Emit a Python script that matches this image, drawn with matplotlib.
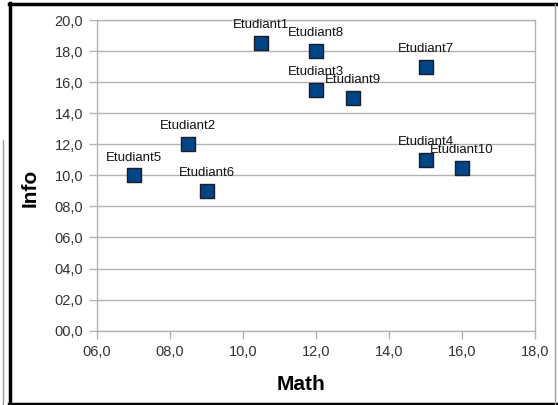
import matplotlib
matplotlib.use("Agg")
import matplotlib.pyplot as plt
from matplotlib.lines import Line2D

names = ["Etudiant1", "Etudiant2", "Etudiant3", "Etudiant4", "Etudiant5",
         "Etudiant6", "Etudiant7", "Etudiant8", "Etudiant9", "Etudiant10"]
math = [10.5, 8.5, 12.0, 15.0, 7.0, 9.0, 15.0, 12.0, 13.0, 16.0]
info = [18.5, 12.0, 15.5, 11.0, 10.0, 9.0, 17.0, 18.0, 15.0, 10.5]
xticks = [6, 8, 10, 12, 14, 16, 18]
yticks = [0, 2, 4, 6, 8, 10, 12, 14, 16, 18, 20]

plt.rcParams['font.family'] = ['Liberation Sans', 'DejaVu Sans']

W, H = 558, 405
fig = plt.figure(figsize=(W / 100, H / 100), dpi=100)
ax = fig.add_axes([97 / W, 1 - 330.7 / H, (535 - 97) / W, (330.7 - 20) / H])

grid_c = "#b3b3b3"
ax.scatter(math, info, marker="s", s=90, c="#004586", edgecolors="#1c1c2c",
           linewidths=1.0, zorder=3)
for n, x, y in zip(names, math, info):
    ax.annotate(n, (x, y), xytext=(0, 8.5), textcoords="offset points",
                ha="center", va="bottom", fontsize=9.5, color="#111111",
                zorder=4)

ax.set_xlim(6, 18)
ax.set_ylim(0, 20)
ax.set_xticks(xticks)
ax.set_yticks(yticks)
ax.set_xticklabels([f"{v:04.1f}".replace(".", ",") for v in xticks])
ax.set_yticklabels([f"{v:04.1f}".replace(".", ",") for v in yticks])
ax.tick_params(axis="both", length=6, width=1, color=grid_c, labelsize=10.5,
               labelcolor="#333333", pad=4)
ax.yaxis.grid(True, color=grid_c, linewidth=1)
ax.set_axisbelow(True)
for s in ax.spines.values():
    s.set_color(grid_c)
    s.set_linewidth(1)

ax.set_xlabel("Math", fontsize=15, fontweight="bold")
ax.set_ylabel("Info", fontsize=15, fontweight="bold")
ax.xaxis.set_label_coords(0.466, -0.143)
ax.yaxis.set_label_coords(-0.13, 0.459)

# outer frame
fig.add_artist(Line2D([9 / W, 556 / W], [1 - 4 / H, 1 - 4 / H], color="black", lw=2.5,
                      transform=fig.transFigure))
fig.add_artist(Line2D([10 / W, 10 / W], [1 - 3 / H, 1 - 404 / H], color="black", lw=2.5,
                      transform=fig.transFigure))
fig.add_artist(Line2D([9 / W, 556 / W], [1 - 403.5 / H, 1 - 403.5 / H], color="black", lw=2.5,
                      transform=fig.transFigure))
fig.add_artist(Line2D([554.5 / W, 554.5 / W], [1 - 4 / H, 1 - 404 / H], color="#999999", lw=1,
                      transform=fig.transFigure))
fig.add_artist(Line2D([2.5 / W, 2.5 / W], [1 - 140 / H, 0], color="#999999", lw=1,
                      transform=fig.transFigure))

fig.savefig("out.png", dpi=100)
